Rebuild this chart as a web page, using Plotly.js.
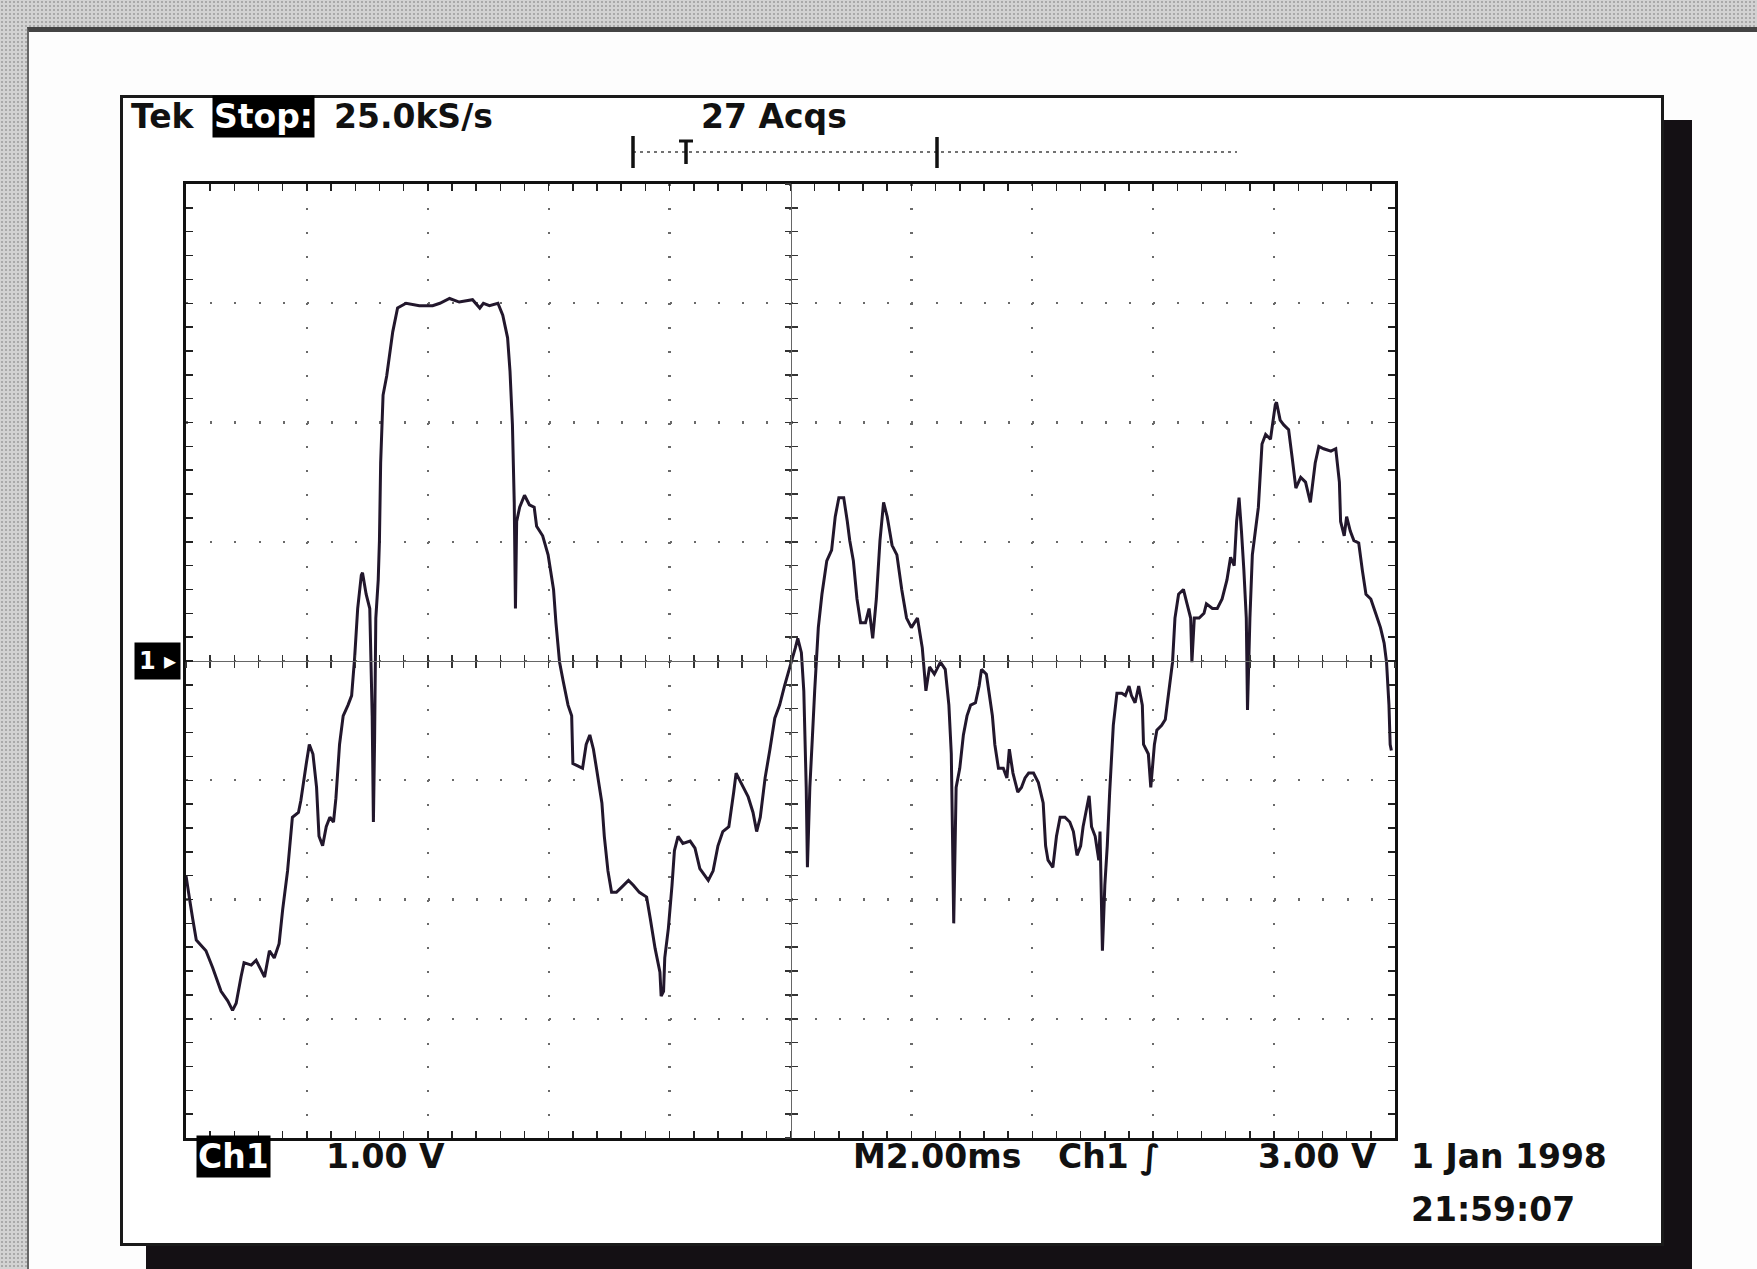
<!DOCTYPE html>
<html>
<head>
<meta charset="utf-8">
<script src="https://cdn.plot.ly/plotly-3.0.1.min.js"></script>
<style>
  html,body{margin:0;padding:0;}
  body{width:1757px;height:1269px;position:relative;overflow:hidden;background:#d2d2d2;
       background-image:radial-gradient(circle,#a9a9a9 0.7px,transparent 1.3px);background-size:4px 4px;}
  #outer{position:absolute;left:27px;top:27px;right:0;bottom:0;background:#fdfdfd;border-top:5px solid #444;border-left:2px solid #666;}
  #shadow{position:absolute;left:146px;top:120px;width:1546px;height:1149px;background:#141014;}
  #inner{position:absolute;left:120px;top:95px;width:1544px;height:1151px;background:#fff;border:3px solid #1a1a1a;box-sizing:border-box;}
  #plot{position:absolute;left:0;top:0;width:1757px;height:1269px;}
</style>
</head>
<body>
<div id="outer"></div>
<div id="shadow"></div>
<div id="inner"></div>
<div id="plot"></div>
<script>
// ---- Channel 1 trace (time in ms, 2.00 ms/div; volts, 1.00 V/div) ----
const time_ms = [
  0.00,0.06,0.11,0.17,0.33,0.44,0.58,0.69,0.77,0.83,0.91,0.96,1.08,1.16,1.24,1.30,1.38,1.46,1.54,1.60,
  1.68,1.76,1.86,1.90,1.99,2.04,2.10,2.16,2.20,2.26,2.32,2.38,2.44,2.48,2.54,2.60,2.68,2.74,2.79,2.84,
  2.90,2.92,2.98,3.04,3.08,3.10,3.12,3.14,3.18,3.20,3.22,3.26,3.32,3.42,3.50,3.64,3.86,4.08,
  4.20,4.36,4.52,4.74,4.86,4.92,5.02,5.16,5.24,5.32,5.36,5.40,5.43,5.45,5.47,5.52,5.60,5.68,5.76,5.80,
  5.90,5.99,6.08,6.12,6.18,6.24,6.32,6.38,6.40,6.48,6.56,6.62,6.68,6.74,6.79,6.88,6.92,6.98,7.04,7.12,
  7.20,7.32,7.40,7.50,7.62,7.68,7.76,7.84,7.86,7.90,7.92,7.98,8.04,8.08,8.14,8.22,8.34,
  8.42,8.50,8.64,8.72,8.80,8.88,8.98,9.06,9.10,9.18,9.30,9.38,9.44,9.50,9.58,9.66,9.74,9.82,9.90,9.99,
  10.08,10.12,10.18,10.22,10.26,10.28,10.32,10.36,10.40,10.46,10.52,10.60,10.68,10.74,10.80,10.88,10.94,10.98,11.04,11.10,
  11.16,11.24,11.30,11.36,11.42,11.48,11.54,11.60,11.68,11.76,11.84,11.92,12.00,12.10,12.18,12.24,12.30,12.38,12.48,
  12.56,12.62,12.66,12.68,12.70,12.74,12.80,12.86,12.92,12.98,13.06,13.12,13.16,13.24,13.28,13.34,13.38,13.44,13.52,13.58,
  13.62,13.68,13.76,13.82,13.88,13.94,14.02,14.10,14.18,14.22,14.26,14.34,14.40,14.46,14.54,14.62,14.68,14.74,14.80,14.84,
  14.94,14.98,15.04,15.10,15.12,15.16,15.20,15.24,15.28,15.34,15.40,15.48,15.54,15.60,15.64,15.70,15.76,15.82,15.84,15.92,
  15.96,16.02,16.06,
  16.14,16.20,16.26,16.32,16.36,16.42,16.50,16.56,16.62,16.64,16.68,16.76,16.84,16.88,16.98,17.06,17.14,17.22,17.28,17.34,
  17.38,17.42,17.46,17.50,17.54,17.56,17.60,17.64,17.68,17.74,17.80,17.86,17.94,18.02,18.04,18.10,18.16,18.24,18.30,18.36,
  18.44,18.52,18.60,18.68,18.74,18.82,18.94,19.02,19.08,19.10,19.16,19.20,19.26,19.32,19.40,19.46,19.52,19.60,19.68,19.76,
  19.82,19.86,19.90,19.92,19.94
];
const ch1_volts = [
  -1.80,-2.00,-2.16,-2.34,-2.43,-2.57,-2.77,-2.85,-2.93,-2.87,-2.65,-2.53,-2.55,-2.51,-2.59,-2.65,-2.43,-2.49,-2.37,-2.08,
  -1.76,-1.31,-1.27,-1.17,-0.86,-0.70,-0.78,-1.06,-1.47,-1.55,-1.39,-1.31,-1.35,-1.15,-0.70,-0.46,-0.37,-0.29,0.03,0.44,
  0.72,0.74,0.56,0.44,-0.46,-1.35,-0.66,0.36,0.68,1.01,1.66,2.23,2.39,2.76,2.96,3.00,2.98,2.98,
  3.00,3.04,3.01,3.03,2.96,3.00,2.98,3.00,2.90,2.71,2.43,1.98,1.33,0.44,1.17,1.29,1.39,1.31,1.29,1.13,
  1.05,0.89,0.60,0.32,-0.01,-0.17,-0.37,-0.46,-0.86,-0.88,-0.90,-0.70,-0.62,-0.74,-0.90,-1.19,-1.47,-1.76,-1.94,-1.94,
  -1.90,-1.84,-1.88,-1.94,-1.98,-2.16,-2.41,-2.61,-2.81,-2.77,-2.49,-2.24,-1.88,-1.59,-1.47,-1.53,-1.51,
  -1.57,-1.74,-1.84,-1.76,-1.55,-1.43,-1.39,-1.10,-0.94,-1.02,-1.14,-1.27,-1.43,-1.31,-0.98,-0.74,-0.48,-0.37,-0.21,-0.05,
  0.11,0.19,0.07,-0.25,-1.06,-1.73,-1.06,-0.66,-0.25,0.28,0.56,0.84,0.93,1.21,1.37,1.37,1.17,1.01,0.84,0.52,
  0.32,0.32,0.44,0.19,0.52,1.01,1.33,1.21,0.97,0.89,0.60,0.36,0.28,0.36,0.11,-0.25,-0.05,-0.11,-0.01,
  -0.07,-0.37,-0.78,-1.47,-2.20,-1.06,-0.90,-0.62,-0.46,-0.37,-0.35,-0.21,-0.07,-0.11,-0.25,-0.46,-0.70,-0.90,-0.90,-0.98,
  -0.74,-0.94,-1.10,-1.06,-0.98,-0.94,-0.94,-1.02,-1.19,-1.55,-1.67,-1.73,-1.47,-1.31,-1.31,-1.35,-1.43,-1.63,-1.55,-1.39,
  -1.13,-1.39,-1.47,-1.67,-1.43,-2.43,-1.88,-1.55,-1.10,-0.54,-0.27,-0.27,-0.29,-0.21,-0.29,-0.35,-0.21,-0.37,-0.70,-0.78,
  -1.06,-0.70,-0.58,
  -0.54,-0.49,-0.25,-0.01,0.36,0.56,0.60,0.48,0.36,-0.01,0.36,0.36,0.40,0.48,0.44,0.44,0.52,0.68,0.87,0.80,
  1.17,1.37,1.09,0.76,0.36,-0.41,0.36,0.89,1.05,1.29,1.82,1.90,1.86,2.15,2.17,2.02,1.98,1.94,1.70,1.45,
  1.54,1.50,1.33,1.66,1.80,1.78,1.76,1.78,1.50,1.17,1.05,1.21,1.09,1.01,0.99,0.76,0.56,0.52,0.40,0.28,
  0.15,-0.01,-0.37,-0.70,-0.75
];

// ---- Screen settings / readout texts ----
const time_range_ms = [0, 20];     // 10 div x 2.00 ms
const volt_range = [-4, 4];        // 8 div x 1.00 V
const top_labels = {tek: "Tek", stop: "Stop:", rate: "25.0kS/s", acqs: "27 Acqs"};
const bottom_labels = {ch: "Ch1", scale: "1.00 V", time: "M2.00ms", trig: "Ch1 ∫", level: "3.00 V"};
const date_labels = ["1 Jan 1998", "21:59:07"];
const ground_label = "1 ▸";

// ---- layout helpers (pixel -> paper) ----
const L = 186, T = 184, W = 1209, H = 954;
const px = x => (x - L) / W;
const py = y => 1 - (y - T) / H;

const FONT = "DejaVu Sans, Liberation Sans, sans-serif";
const txt = (s, x, y, opts) => Object.assign({
  text: s, xref: "paper", yref: "paper", x: px(x), y: py(y), xanchor: "left", yanchor: "middle",
  showarrow: false, font: {family: FONT, size: 33, color: "#111", weight: 700}
}, opts || {});

const inv = {bgcolor: "#000", borderpad: 1, font: {family: FONT, size: 33, color: "#fff", weight: 700}};

const traces = [
  {x: time_ms, y: ch1_volts, type: "scatter", mode: "lines", xaxis: "x", yaxis: "y",
   line: {color: "#22172c", width: 3, simplify: false}, hoverinfo: "skip"},
  {x: [], y: [], type: "scatter", mode: "lines", xaxis: "x2", yaxis: "y2", hoverinfo: "skip"},
  {x: [], y: [], type: "scatter", mode: "lines", xaxis: "x3", yaxis: "y3", hoverinfo: "skip"}
];

const centerAxis = (range, dtick, ticks) => ({
  anchor: "free", position: 0.5, range: range, dtick: dtick, tick0: 0,
  showline: true, linecolor: "#666", linewidth: 1, ticks: ticks, ticklen: 6, tickwidth: 1.5, tickcolor: "#333",
  showticklabels: false, showgrid: false, zeroline: false, fixedrange: true
});

const xa2 = centerAxis(time_range_ms, 0.4, "inside"); xa2.overlaying = "x";
const xa3 = centerAxis(time_range_ms, 0.4, "outside"); xa3.overlaying = "x";
const ya2 = centerAxis(volt_range, 0.2, "inside"); ya2.overlaying = "y";
const ya3 = centerAxis(volt_range, 0.2, "outside"); ya3.overlaying = "y";

const layout = {
  width: 1757, height: 1269, autosize: false,
  margin: {l: L, r: 1757 - L - W, t: T, b: 1269 - T - H, pad: 0},
  paper_bgcolor: "rgba(0,0,0,0)", plot_bgcolor: "#ffffff",
  showlegend: false,
  xaxis: {
    range: time_range_ms, dtick: 2, tick0: 0, showticklabels: false, zeroline: false, fixedrange: true,
    showgrid: true, gridcolor: "#6a6a6a", gridwidth: 2.2, griddash: "2px,21.85px",
    showline: true, linecolor: "#111", linewidth: 3, mirror: "allticks",
    ticks: "inside", ticklen: 7, tickwidth: 1.5, tickcolor: "#222",
    minor: {dtick: 0.4, tick0: 0, ticks: "inside", ticklen: 7, tickwidth: 1.5, tickcolor: "#222", showgrid: false}
  },
  yaxis: {
    range: volt_range, dtick: 1, tick0: 0, showticklabels: false, zeroline: false, fixedrange: true,
    showgrid: true, gridcolor: "#6a6a6a", gridwidth: 2.2, griddash: "2px,22.18px",
    showline: true, linecolor: "#111", linewidth: 3, mirror: "allticks",
    ticks: "inside", ticklen: 7, tickwidth: 1.5, tickcolor: "#222",
    minor: {dtick: 0.2, tick0: 0, ticks: "inside", ticklen: 7, tickwidth: 1.5, tickcolor: "#222", showgrid: false}
  },
  xaxis2: xa2, xaxis3: xa3, yaxis2: ya2, yaxis3: ya3,
  shapes: [
    // record / trigger position bar
    {type: "line", xref: "paper", yref: "paper", x0: px(633), x1: px(1237), y0: py(152), y1: py(152),
     line: {color: "#444", width: 1.5, dash: "3px,4px"}},
    {type: "line", xref: "paper", yref: "paper", x0: px(633), x1: px(633), y0: py(136), y1: py(168),
     line: {color: "#111", width: 3.5}},
    {type: "line", xref: "paper", yref: "paper", x0: px(686), x1: px(686), y0: py(141), y1: py(164),
     line: {color: "#111", width: 3.5}},
    {type: "line", xref: "paper", yref: "paper", x0: px(679), x1: px(693), y0: py(141), y1: py(141),
     line: {color: "#111", width: 3}},
    {type: "line", xref: "paper", yref: "paper", x0: px(937), x1: px(937), y0: py(137), y1: py(168),
     line: {color: "#111", width: 3.5}}
  ],
  annotations: [
    txt(top_labels.tek, 129, 116),
    txt(top_labels.stop, 212, 116, inv),
    txt(top_labels.rate, 332, 116),
    txt(top_labels.acqs, 699, 116),
    txt(bottom_labels.ch, 196, 1156, inv),
    txt(bottom_labels.scale, 324, 1156),
    txt(bottom_labels.time, 851, 1156),
    txt(bottom_labels.trig, 1056, 1156),
    txt(bottom_labels.level, 1256, 1156),
    txt(date_labels[0], 1409, 1156),
    txt(date_labels[1], 1409, 1209),
    {text: ground_label, xref: "paper", yref: "y", x: px(134), y: 0, xanchor: "left", yanchor: "middle",
     showarrow: false, bgcolor: "#000", borderpad: 4,
     font: {family: FONT, size: 24, color: "#fff", weight: 700}}
  ]
};

Plotly.newPlot("plot", traces, layout, {displayModeBar: false, staticPlot: true});
</script>
</body>
</html>
